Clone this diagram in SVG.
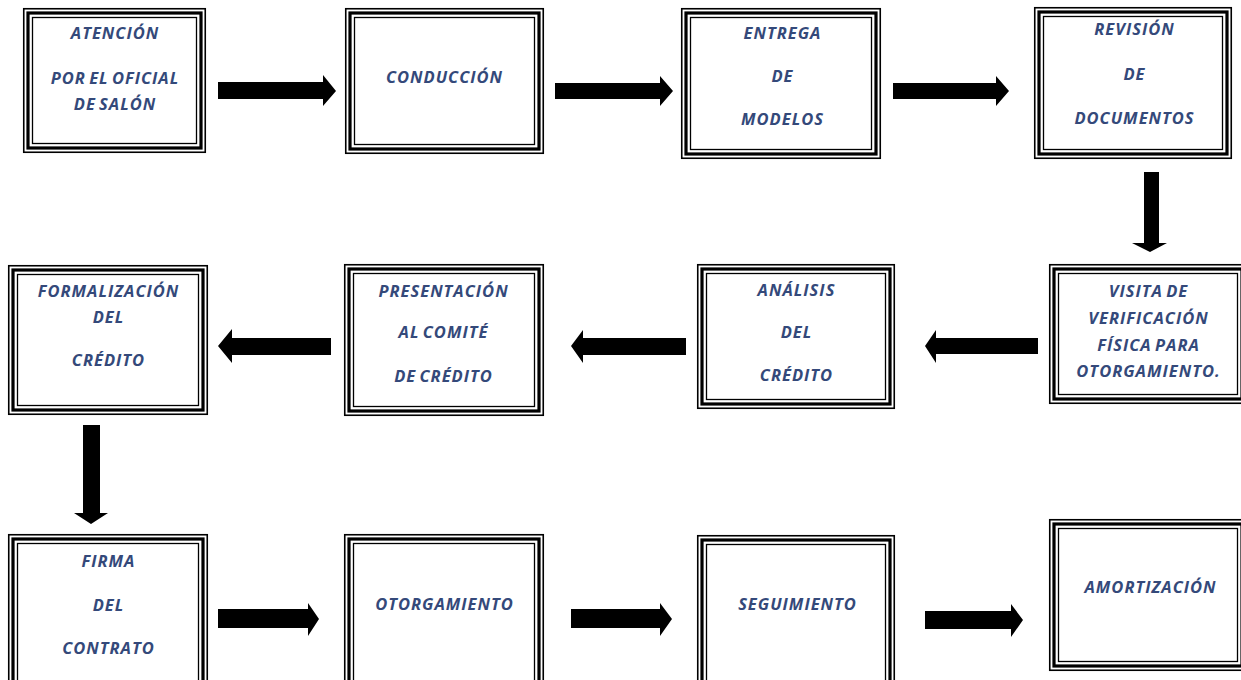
<svg xmlns="http://www.w3.org/2000/svg" width="1241" height="680" viewBox="0 0 1241 680">
<style>
.o{fill:#fff;stroke:#000;stroke-width:1.6}
.t{fill:none;stroke:#000;stroke-width:3.2}
.i{fill:none;stroke:#000;stroke-width:1.3}
text{font-family:"Open Sans","Liberation Sans",sans-serif;font-weight:bold;font-style:italic;font-size:16.5px;letter-spacing:1px;word-spacing:-2px;fill:#34497a;text-anchor:middle}
.arr{fill:#000}
</style>
<rect width="1241" height="680" fill="#fff"/>
<g id="n1"><rect class="o" x="23.75" y="8.75" width="181.5" height="143.5"/><rect class="t" x="28" y="13" width="173" height="135"/><rect class="i" x="32.5" y="17.5" width="164" height="126"/>
<text x="115" y="39">ATENCIÓN</text><text x="115" y="84">POR EL OFICIAL</text><text x="115" y="110">DE SALÓN</text></g>
<g id="n2"><rect class="o" x="345.75" y="8.75" width="197.5" height="144.5"/><rect class="t" x="350" y="13" width="189" height="136"/><rect class="i" x="354.5" y="17.5" width="180" height="127"/>
<text x="444.5" y="83">CONDUCCIÓN</text></g>
<g id="n3"><rect class="o" x="681.75" y="8.75" width="198.5" height="149.5"/><rect class="t" x="686" y="13" width="190" height="141"/><rect class="i" x="690.5" y="17.5" width="181" height="132"/>
<text x="782.5" y="39">ENTREGA</text><text x="782.5" y="82">DE</text><text x="782.5" y="125">MODELOS</text></g>
<g id="n4"><rect class="o" x="1034.75" y="7.75" width="196.5" height="150.5"/><rect class="t" x="1039" y="12" width="188" height="142"/><rect class="i" x="1043.5" y="16.5" width="179" height="133"/>
<text x="1134.5" y="35">REVISIÓN</text><text x="1134.5" y="80">DE</text><text x="1134.5" y="124">DOCUMENTOS</text></g>
<g id="n5"><rect class="o" x="1049.75" y="264.75" width="196.5" height="138.5"/><rect class="t" x="1054" y="269" width="188" height="130"/><rect class="i" x="1058.5" y="273.5" width="179" height="121"/>
<text x="1148.5" y="297">VISITA DE</text><text x="1148.5" y="324">VERIFICACIÓN</text><text x="1148.5" y="351">FÍSICA PARA</text><text x="1148.5" y="377">OTORGAMIENTO.</text></g>
<g id="n6"><rect class="o" x="697.75" y="264.75" width="196.5" height="143.5"/><rect class="t" x="702" y="269" width="188" height="135"/><rect class="i" x="706.5" y="273.5" width="179" height="126"/>
<text x="796.5" y="296">ANÁLISIS</text><text x="796.5" y="338">DEL</text><text x="796.5" y="381">CRÉDITO</text></g>
<g id="n7"><rect class="o" x="344.75" y="264.75" width="198.5" height="150.5"/><rect class="t" x="349" y="269" width="190" height="142"/><rect class="i" x="353.5" y="273.5" width="181" height="133"/>
<text x="443.5" y="297">PRESENTACIÓN</text><text x="443.5" y="338">AL COMITÉ</text><text x="443.5" y="382">DE CRÉDITO</text></g>
<g id="n8"><rect class="o" x="8.75" y="265.75" width="198.5" height="148.5"/><rect class="t" x="13" y="270" width="190" height="140"/><rect class="i" x="17.5" y="274.5" width="181" height="131"/>
<text x="108.5" y="297">FORMALIZACIÓN</text><text x="108.5" y="323">DEL</text><text x="108.5" y="366">CRÉDITO</text></g>
<g id="n9"><rect class="o" x="8.75" y="534.75" width="198.5" height="160"/><rect class="t" x="13" y="539" width="190" height="160"/><rect class="i" x="17.5" y="543.5" width="181" height="160"/>
<text x="108.5" y="567">FIRMA</text><text x="108.5" y="611">DEL</text><text x="108.5" y="654">CONTRATO</text></g>
<g id="n10"><rect class="o" x="344.75" y="534.75" width="198.5" height="160"/><rect class="t" x="349" y="539" width="190" height="160"/><rect class="i" x="353.5" y="543.5" width="181" height="160"/>
<text x="444.5" y="610">OTORGAMIENTO</text></g>
<g id="n11"><rect class="o" x="697.75" y="535.75" width="196.5" height="160"/><rect class="t" x="702" y="540" width="188" height="160"/><rect class="i" x="706.5" y="544.5" width="179" height="160"/>
<text x="797.5" y="610">SEGUIMIENTO</text></g>
<g id="n12"><rect class="o" x="1049.75" y="519.75" width="196.5" height="150.5"/><rect class="t" x="1054" y="524" width="188" height="142"/><rect class="i" x="1058.5" y="528.5" width="179" height="133"/>
<text x="1150.5" y="593">AMORTIZACIÓN</text></g>
<g id="connectors" class="arr">
<polygon points="218,82 323,82 323,75 336,91 323,106 323,99 218,99"/>
<polygon points="555,83 660,83 660,76 673,91 660,106 660,99 555,99"/>
<polygon points="893,83 996,83 996,76 1009,91 996,106 996,99 893,99"/>
<polygon points="1144,172 1159,172 1159,243 1167,243 1150,252 1132,243 1144,243"/>
<polygon points="1038,338 936,338 936,330 925,346 936,363 936,354 1038,354"/>
<polygon points="686,338 583,338 583,330 571,346 583,363 583,355 686,355"/>
<polygon points="331,338 232,338 232,329 218,346 232,363 232,355 331,355"/>
<polygon points="83,425 100,425 100,513 108,513 91,524 74,513 83,513"/>
<polygon points="218,609 308,609 308,603 319,619 308,636 308,628 218,628"/>
<polygon points="571,609 660,609 660,603 672,619 660,636 660,628 571,628"/>
<polygon points="925,611 1011,611 1011,604 1023,620 1011,637 1011,629 925,629"/>
</g>
</svg>
